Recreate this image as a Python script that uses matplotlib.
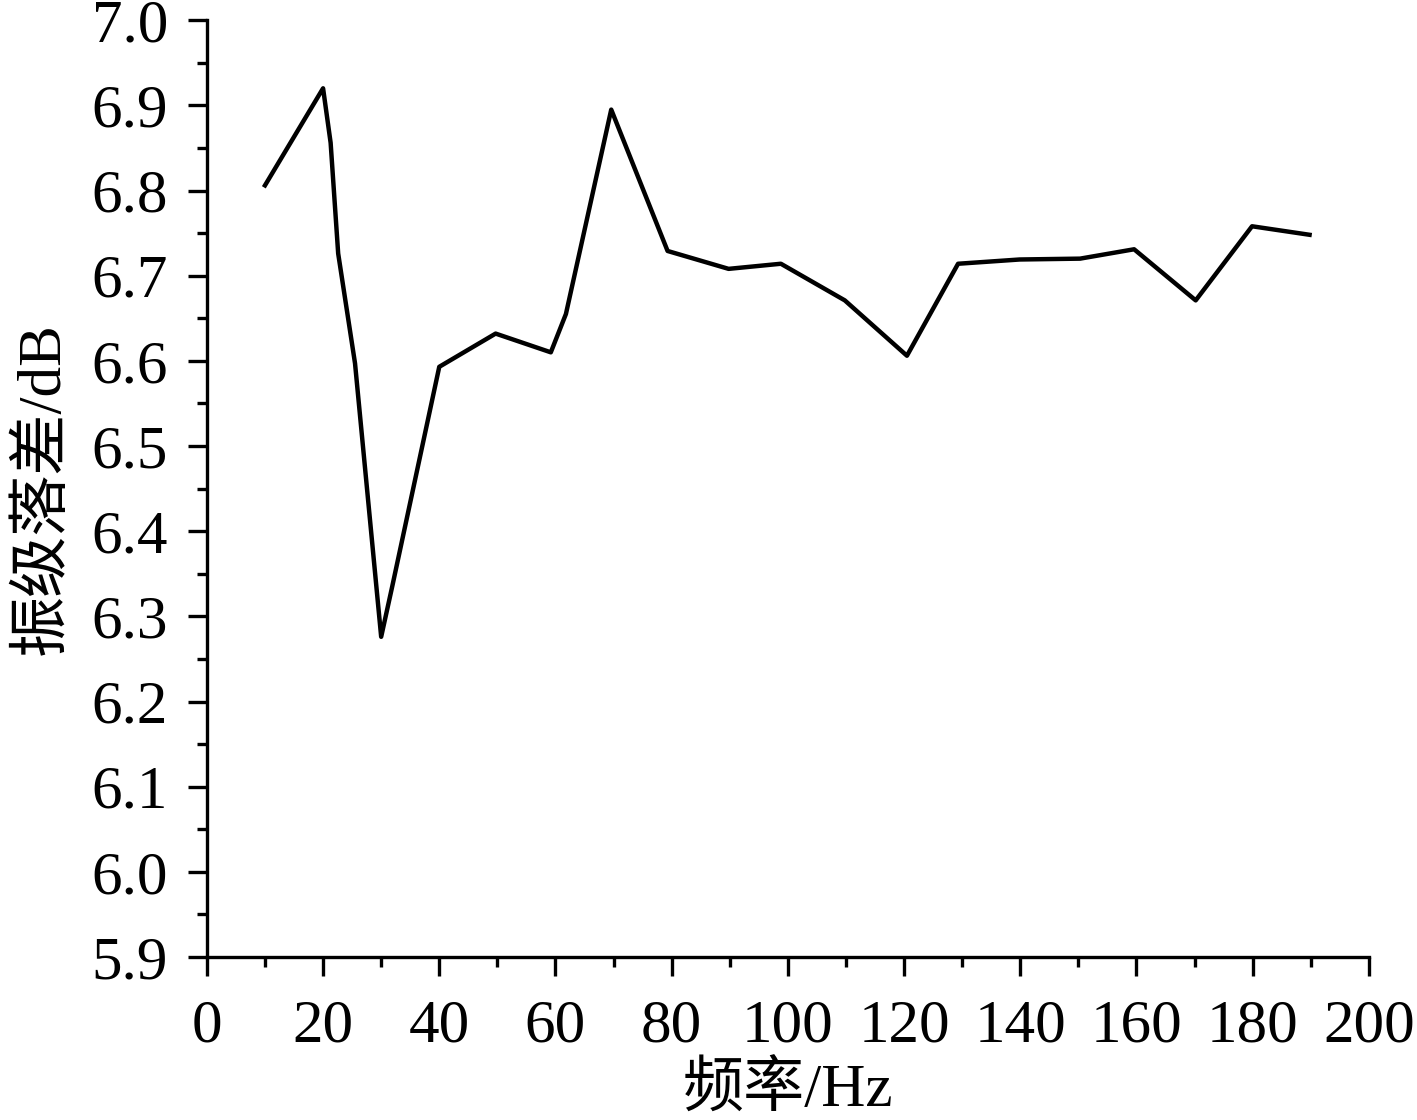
import matplotlib
matplotlib.use("Agg")
import matplotlib.pyplot as plt
from matplotlib.ticker import MultipleLocator

freq = [10, 20, 21.3, 22.6, 25.5, 30, 31.9, 40, 49.7, 59.2, 61.8, 69.6, 79.3, 89.8, 98.8, 109.8, 120.5, 129.3, 139.9, 150.3, 159.6, 170.2, 179.9, 189.8]
diff = [6.806, 6.920, 6.856, 6.726, 6.597, 6.276, 6.335, 6.593, 6.632, 6.610, 6.655, 6.895, 6.729, 6.708, 6.714, 6.671, 6.606, 6.714, 6.719, 6.720, 6.731, 6.671, 6.758, 6.748]

xlabel = "频率/Hz"
ylabel = "振级落差/dB"

plt.rcParams['font.family'] = ['Liberation Serif', 'Noto Sans CJK SC']

fig = plt.figure(figsize=(14.17, 11.2), dpi=100)
ax = fig.add_axes([0.146, 0.1455, 0.82, 0.8365])
ax.plot(freq, diff, color='black', lw=3.2)
ax.set_xlim(0, 200)
ax.set_ylim(5.9, 7.0)
ax.xaxis.set_major_locator(MultipleLocator(20))
ax.xaxis.set_minor_locator(MultipleLocator(10))
ax.yaxis.set_major_locator(MultipleLocator(0.1))
ax.yaxis.set_minor_locator(MultipleLocator(0.05))
ax.yaxis.set_major_formatter(matplotlib.ticker.FormatStrFormatter('%.1f'))
for s in ['top', 'right']:
    ax.spines[s].set_visible(False)
for s in ['left', 'bottom']:
    ax.spines[s].set_linewidth(2.4)
ax.tick_params(which='major', direction='out', length=14, width=2.4, labelsize=44)
ax.tick_params(axis='y', which='major', pad=14)
ax.tick_params(axis='x', which='major', pad=16)
ax.tick_params(which='minor', direction='out', length=7, width=2.4)
ax.set_xlabel(xlabel, fontsize=44, family=['Liberation Serif', 'Noto Sans CJK SC'], labelpad=6)
ax.set_ylabel(ylabel, fontsize=44, family=['Liberation Serif', 'Noto Sans CJK SC'], labelpad=14)
fig.savefig("out.png", dpi=100)
